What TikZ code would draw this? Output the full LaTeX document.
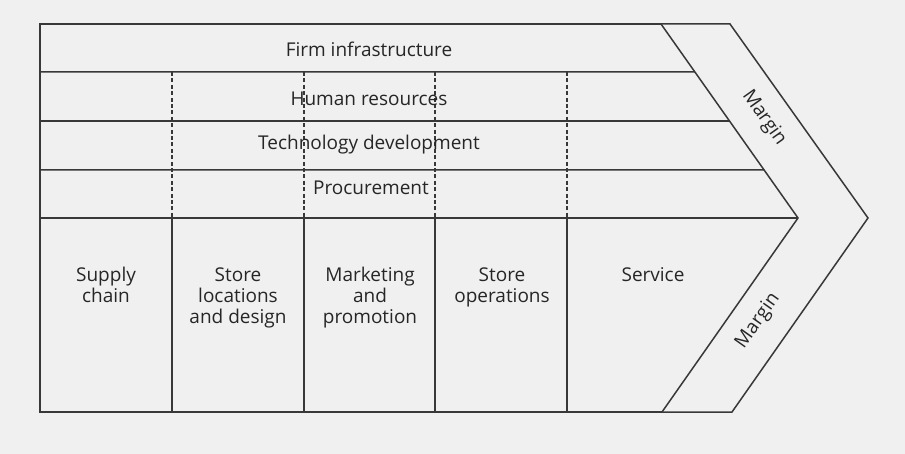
\documentclass[tikz,border=0pt]{standalone}
\usepackage{fontspec}
\setmainfont{Open Sans}
\usetikzlibrary{positioning, calc}

\begin{document}
\begin{tikzpicture}[
	x=0.5pt, y=-0.5pt,
	every node/.style={font=\fontsize{9.5}{10.5}\selectfont, text=black!85},
	frame/.style={draw=black!78, line width=0.75pt, line join=miter},
	divider/.style={draw=black!78, line width=0.6pt, dash pattern=on 2pt off 1.2pt},
	activity/.style={align=center, anchor=north, inner sep=0pt},
	support/.style={inner sep=0pt},
	marginlabel/.style={inner sep=0pt}
	]
	
	% === PAGE ===
	\fill[black!6] (0,0) rectangle (905,454);
	\useasboundingbox (0,0) rectangle (905,454);
	
	% === CHEVRON CORNERS ===
	\coordinate (topleft) at (40,24);
	\coordinate (botleft) at (40,412);
	\coordinate (intop) at (661,24);
	\coordinate (intip) at (798,218);
	\coordinate (inbot) at (662,412);
	\coordinate (outtop) at (730,24);
	\coordinate (outtip) at (868,218);
	\coordinate (outbot) at (732,412);
	
	% outline
	\draw[frame] (intop) -- (topleft) -- (botleft) -- (inbot);
	\draw[frame] (intop) -- (outtop) -- (outtip) -- (outbot) -- (inbot);
	\draw[frame] (intop) -- (intip) -- (inbot);
	
	% === SUPPORT ROWS ===
	\foreach \y/\name in {72/row1, 121/row2, 170/row3} {
		\pgfmathsetmacro{\f}{(\y-24)/194}
		\coordinate (\name) at ($(intop)!\f!(intip)$);
		\draw[frame] (40,\y) -- (\name);
	}
	\draw[frame] (40,218) -- (intip);
	
	% === COLUMN DIVIDERS ===
	\foreach \x in {172, 304, 435, 567} {
		\draw[divider] (\x,72) -- (\x,218);
		\draw[frame] (\x,218) -- (\x,412);
	}
	
	% === SUPPORT ACTIVITIES ===
	\node[support] (firm) at (369,49) {Firm infrastructure};
	\node[support] (human) at (369,99) {Human resources};
	\node[support] (tech) at (369,145) {Technology development};
	\node[support] (procure) at (371,188) {Procurement};
	
	% === PRIMARY ACTIVITIES ===
	\node[activity] (supply) at (106,267) {Supply\\chain};
	\node[activity] (location) at (238,267) {Store\\locations\\and design};
	\node[activity] (marketing) at (370,267) {Marketing\\and\\promotion};
	\node[activity] (operations) at (502,267) {Store\\operations};
	\node[activity] (service) at (653,267) {Service};
	
	% === MARGIN ===
	\node[marginlabel, rotate=-54.7] (margintop) at (764,118) {Margin};
	\node[marginlabel, rotate=54.7] (marginbot) at (758,321) {Margin};
	
\end{tikzpicture}
\end{document}
